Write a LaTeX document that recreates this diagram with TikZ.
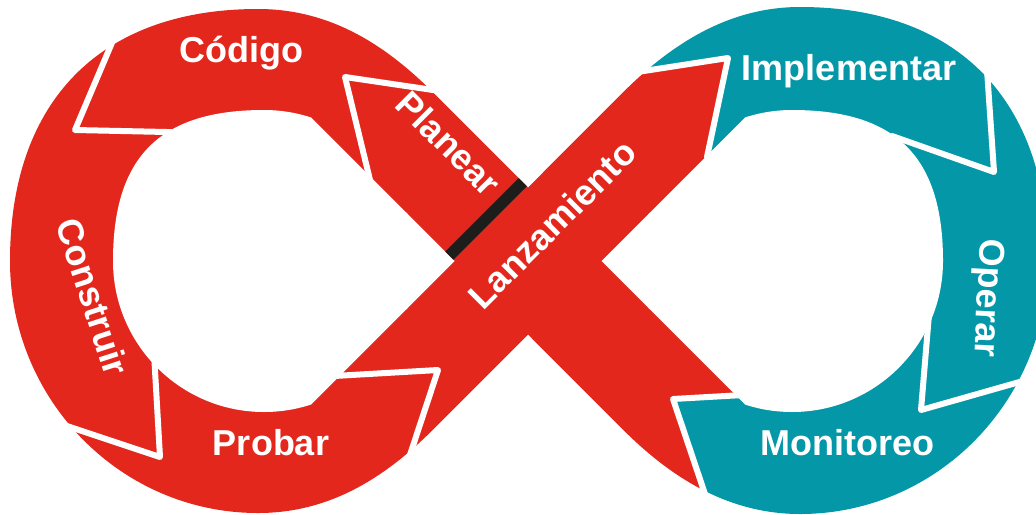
\documentclass[tikz,border=0pt]{standalone}
\usepackage{fontspec}
\setmainfont{Liberation Sans}
\usepackage{tikz}
\usetikzlibrary{calc}
\definecolor{devred}{HTML}{E3271C}
\definecolor{devteal}{HTML}{0397A8}
\definecolor{devbar}{HTML}{1D1D1B}

\begin{document}
\begin{tikzpicture}[x=0.5pt,y=-0.5pt,
    stage/.style={text=white,font=\bfseries\fontsize{18}{22}\selectfont,inner sep=0pt},
    tilted/.style={stage,text depth=0pt,anchor=center},
    headline/.style={white,line width=3pt,line join=round,line cap=round}]
    \path[use as bounding box] (0,0) rectangle (1036,514);
    \clip (0,0) rectangle (1036,514);
    % tangent points of the loops and the two corners of the crossing
    \coordinate (t1) at (432.8,92.2);
    \coordinate (t2) at (432.8,429.8);
    \coordinate (t3) at (623.2,92.2);
    \coordinate (t4) at (623.2,429.8);
    \coordinate (xt) at (528,187.5);
    \coordinate (xb) at (528,334.5);
    \coordinate (xl) at (454.5,261);
    \coordinate (xr) at (601.5,261);
    \foreach \n/\ox/\oy/\ax/\ay/\ix/\iy in {pla/441/91.2/345/77/370/180, cod/114/38/75/130/176/132.2,
        con/64/425/160/457/154.4/360, pro/407/464/438/370/334/376, lan/640/71.6/728/58/707/157,
        imp/987/70/994/172/892/136, ope/1030/379/921/410/929/314, mon/707/500/673/399/750/394.6}
    {
        \coordinate (\n-o) at (\ox,\oy);
        \coordinate (\n-a) at (\ax,\ay);
        \coordinate (\n-i) at (\ix,\iy);
    }
    \begin{scope}
        \clip (t1) .. controls (383.3,42.7) and (328,9) .. (258,9)
            .. controls (100.5,9) and (10,101) .. (10,261)
            .. controls (10,400.2) and (121,513) .. (258,513)
            .. controls (328,513) and (383.3,479.3) .. (t2)
            -- (xb) -- (t4)
            .. controls (672.7,479.3) and (730,514) .. (800,514)
            .. controls (937,514) and (1048,400.7) .. (1048,261)
            .. controls (1048,99.7) and (957.5,7) .. (800,7)
            .. controls (730,7) and (672.7,42.7) .. (t3)
            -- (xt) -- cycle;
        \fill[devred] (-50,-50) -- (600,-50) -- (lan-o) -- (lan-a) -- (lan-i) -- (mon-i) -- (mon-a)
            -- (mon-o) -- (717,530) -- (717,560) -- (-50,560) -- cycle;
        \fill[devteal] (600,-50) -- (1100,-50) -- (1100,560) -- (717,560) -- (717,530) -- (mon-o)
            -- (mon-a) -- (mon-i) -- (lan-i) -- (lan-a) -- (lan-o) -- cycle;
    \end{scope}
    % holes of the two loops
    \begin{scope}
        \clip (xl) -- (143.5,-50) -- (-50,-50) -- (-50,570) -- (145.5,570) -- cycle;
        \fill[white] (264,110) .. controls (159.8,110) and (113,156.8) .. (113,261)
            .. controls (113,344.4) and (180.6,412) .. (264,412)
            .. controls (347.4,412) and (415,344.4) .. (415,261)
            .. controls (415,177.6) and (347.4,110) .. (264,110) -- cycle;
        \fill[white] (406,212) -- (460,261) -- (406,310) -- (400,261) -- cycle;
    \end{scope}
    \begin{scope}
        \clip (xr) -- (912.5,-50) -- (1100,-50) -- (1100,570) -- (910.5,570) -- cycle;
        \fill[white] (792,110) .. controls (896.2,110) and (943,156.8) .. (943,261)
            .. controls (943,344.4) and (875.4,412) .. (792,412)
            .. controls (708.6,412) and (641,344.4) .. (641,261)
            .. controls (641,177.6) and (708.6,110) .. (792,110) -- cycle;
        \fill[white] (650,212) -- (596,261) -- (650,310) -- (656,261) -- cycle;
    \end{scope}
    \coordinate (bar-a) at (449.25,255.75);
    \coordinate (bar-b) at (522.75,182.25);
    \draw[devbar, line width=5.75pt] (bar-a) -- (bar-b);
    \foreach \n in {pla,cod,con,pro,lan,imp,ope,mon}
        \draw[headline] (\n-o) -- (\n-a) -- (\n-i);
    \node[stage, anchor=base] (codigo) at (241,62) {Código};
    \node[stage, anchor=base] (implementar) at (849,80) {Implementar};
    \node[stage, anchor=base] (probar) at (271,455) {Probar};
    \node[stage, anchor=base] (monitoreo) at (847,455) {Monitoreo};
    \node[tilted, rotate=-45] (planear) at (449,143) {Planear};
    \node[tilted, rotate=45] (lanzamiento) at (552,224) {Lanzamiento};
    \node[tilted, rotate=-72] (construir) at (93,297) {Construir};
    \node[tilted, rotate=-93] (operar) at (990,298) {Operar};
\end{tikzpicture}
\end{document}
